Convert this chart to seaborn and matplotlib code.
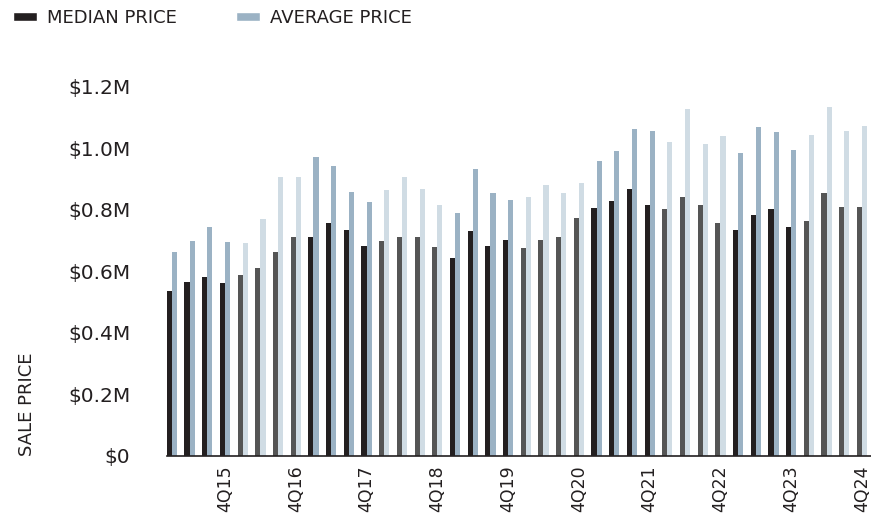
import pandas as pd
import matplotlib.pyplot as plt
import seaborn as sns
from matplotlib.patches import Patch
from matplotlib.ticker import FuncFormatter

# --- data (in $ millions), 1Q15 .. 4Q24 ---
years = list(range(15, 25))
quarters = [f"{q}Q{y}" for y in years for q in range(1, 5)]

median_price = [0.536, 0.565, 0.582, 0.562,
                0.588, 0.611, 0.663, 0.712,
                0.712, 0.758, 0.735, 0.683,
                0.699, 0.712, 0.712, 0.680,
                0.644, 0.732, 0.683, 0.703,
                0.676, 0.703, 0.712, 0.774,
                0.807, 0.830, 0.866, 0.814,
                0.801, 0.840, 0.814, 0.758,
                0.735, 0.784, 0.801, 0.745,
                0.765, 0.853, 0.810, 0.810]

average_price = [0.663, 0.699, 0.745, 0.696,
                 0.693, 0.771, 0.905, 0.908,
                 0.971, 0.941, 0.859, 0.824,
                 0.863, 0.905, 0.869, 0.814,
                 0.791, 0.931, 0.856, 0.833,
                 0.843, 0.879, 0.856, 0.886,
                 0.958, 0.990, 1.062, 1.056,
                 1.020, 1.127, 1.013, 1.039,
                 0.984, 1.069, 1.052, 0.993,
                 1.042, 1.134, 1.056, 1.072]

df = pd.DataFrame({
    'quarter': quarters * 2,
    'price': median_price + average_price,
    'series': ['MEDIAN PRICE'] * len(quarters) + ['AVERAGE PRICE'] * len(quarters),
})

# colours: odd years dark, even years light
dark_med, dark_avg = '#231f20', '#9bb2c4'
light_med, light_avg = '#555555', '#d0dce4'
txt = '#231f20'

sns.set_theme(style="white")
plt.rcParams['font.family'] = ['DejaVu Sans']

fig = plt.figure(figsize=(8.71, 5.15), dpi=100)
ax = fig.add_axes([0.1917, 0.1146, 0.8083, 0.7171])

sns.barplot(data=df, x='quarter', y='price', hue='series',
            palette=[dark_med, dark_avg], width=0.58, saturation=1,
            legend=False, ax=ax)

# recolour even-year bars
for i, q in enumerate(quarters):
    if int(q[-2:]) % 2 == 0:
        ax.containers[0][i].set_facecolor(light_med)
        ax.containers[1][i].set_facecolor(light_avg)
for c in ax.containers:
    for p in c:
        p.set_edgecolor('none')

ax.set_xlim(-0.28, len(quarters) - 0.49)
ax.set_ylim(0, 1.2)
ax.set_yticks([0, 0.2, 0.4, 0.6, 0.8, 1.0, 1.2])
ax.yaxis.set_major_formatter(FuncFormatter(lambda v, _: '$0' if v == 0 else f'${v:.1f}M'))

tick_pos = [i for i, q in enumerate(quarters) if q.startswith('4Q')]
ax.set_xticks(tick_pos)
ax.set_xticklabels([quarters[i] for i in tick_pos], rotation=90, fontsize=12.5, color=txt)
ax.tick_params(axis='y', labelsize=14.5, labelcolor=txt, length=0, pad=26.5)
ax.tick_params(axis='x', length=0, pad=7)

ax.set_xlabel('')
ax.set_ylabel('SALE PRICE', fontsize=13, color=txt, loc='bottom', labelpad=23)

sns.despine(ax=ax, left=True)
ax.spines['bottom'].set_color(txt)
ax.spines['bottom'].set_linewidth(1.2)

handles = [Patch(facecolor=dark_med, label='MEDIAN PRICE'),
           Patch(facecolor=dark_avg, label='AVERAGE PRICE')]
fig.legend(handles=handles, loc='center left', bbox_to_anchor=(0.015, 0.965),
           ncol=2, frameon=False, fontsize=13, labelcolor=txt,
           handlelength=1.33, handleheight=0.45, handletextpad=0.55,
           columnspacing=3.3, borderpad=0, borderaxespad=0)

plt.savefig('out.png', dpi=100)
